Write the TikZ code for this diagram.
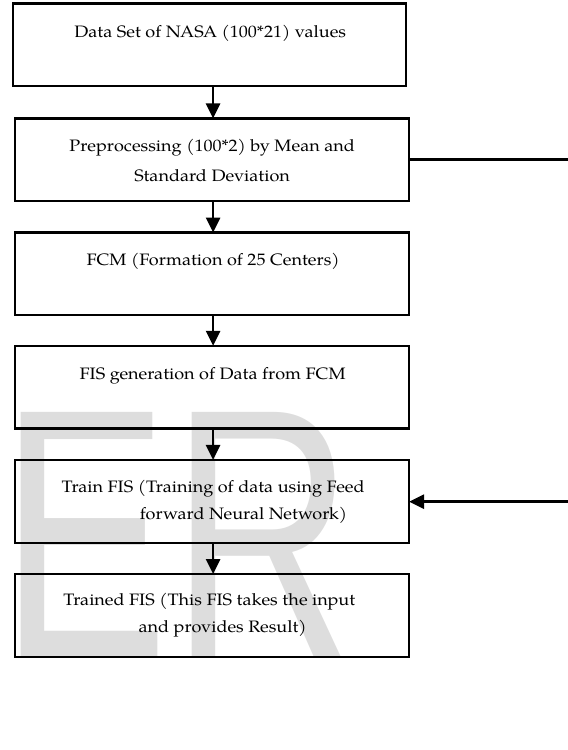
\documentclass[tikz,border=0pt]{standalone}
\usepackage{fontspec}
\usepackage{graphicx}
\setmainfont{TeX Gyre Pagella}
\newfontfamily\wmfont{Liberation Sans}
\usetikzlibrary{arrows.meta}
\definecolor{wmgray}{RGB}{221,221,221}
\begin{document}
\begin{tikzpicture}[x=1pt,y=-1pt,xscale=0.9514,yscale=0.8711,transform shape,
  box/.style={draw=black,line width=2.2pt,minimum width=414pt,minimum height=95pt,inner sep=0pt,outer sep=0pt},
  lbl/.style={inner sep=0pt,font=\fontsize{19}{31}\selectfont,align=center},
  arr/.style={line width=2.7pt,-{Triangle[length=15pt,width=14pt]}},
  ln/.style={line width=2.7pt},
  wm/.style={inner sep=0pt,anchor=base west,text=wmgray,font=\wmfont\fontsize{265}{265}\selectfont}]
\useasboundingbox (0,0) rectangle (597,861);
% watermark
\node[wm] (wme) at (0,756) {\scalebox{1}[1.55]{E}};
\node[wm] (wmr) at (180,756) {\scalebox{1}[1.55]{R}};
% boxes
\node[box,minimum width=413pt] (b1) at (220.5,51.5) {};
\node[box] (b2) at (223,183.5) {};
\node[box] (b3) at (223,314.5) {};
\node[box] (b4) at (223,444.5) {};
\node[box] (b5) at (223,575.5) {};
\node[box] (b6) at (223,706.5) {};
% texts
\node[lbl] (t1) at (221,38) {Data Set of NASA (100*21) values};
\node[lbl] (t2a) at (223,169) {Preprocessing (100*2) by Mean and};
\node[lbl] (t2b) at (223,202) {Standard Deviation};
\node[lbl] (t3) at (224,300) {FCM (Formation of 25 Centers)};
\node[lbl] (t4) at (223.5,432) {FIS generation of Data from FCM};
\node[lbl] (t5a) at (224,561) {Train FIS (Training of data using Feed};
\node[lbl] (t5b) at (256,592) {forward Neural Network)};
\node[lbl] (t6a) at (220,691) {Trained FIS (This FIS takes the input};
\node[lbl] (t6b) at (234,722) {and provides Result)};
% connectors
\coordinate (ax) at (224,0);
\draw[arr] (b1.south -| ax) -- (b2.north -| ax);
\draw[arr] (b2.south -| ax) -- (b3.north -| ax);
\draw[arr] (b3.south -| ax) -- (b4.north -| ax);
\draw[arr] (b4.south -| ax) -- (b5.north -| ax);
\draw[arr] (b5.south -| ax) -- (b6.north -| ax);
\coordinate (r1) at (597,183.5);
\coordinate (r2) at (597,576);
\draw[ln] (b2.east) -- (r1);
\draw[arr] (r2) -- (b5.east |- r2);
\end{tikzpicture}
\end{document}
